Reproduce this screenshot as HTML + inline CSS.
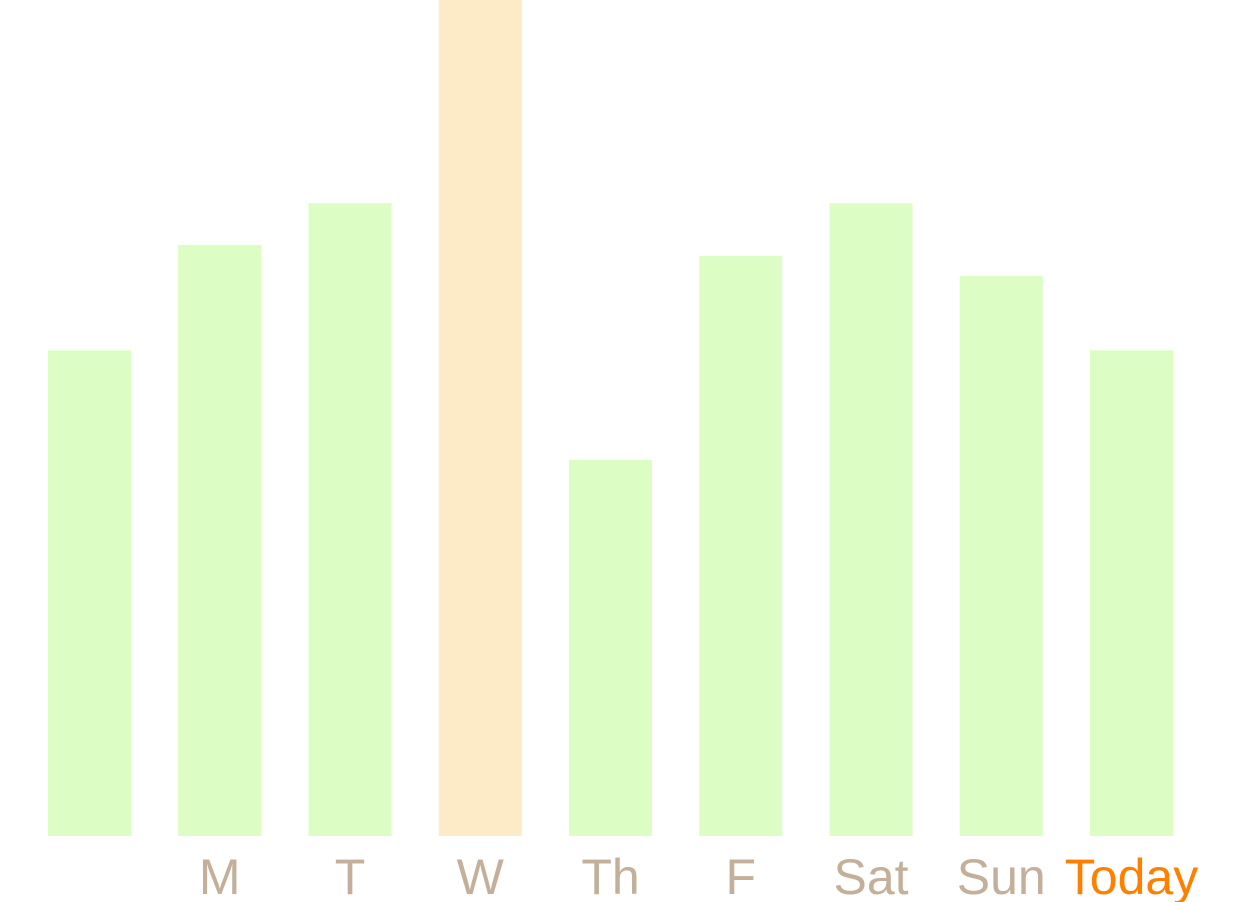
<!DOCTYPE html>
<html><head><meta charset="utf-8"><style>
html,body{margin:0;padding:0;background:#fff;}
svg{display:block;}
</style></head><body>
<svg id="chart" width="1233" height="902" xmlns="http://www.w3.org/2000/svg"></svg>
<script>
const categories = ["", "M", "T", "W", "Th", "F", "Sat", "Sun", "Today"];
const values = [58.1, 70.7, 75.7, 100, 45.0, 69.4, 75.7, 67.0, 58.1];
const highlight = [false, false, false, true, false, false, false, false, false];
const maxValue = 100;

const svg = document.getElementById('chart');
const NS = 'http://www.w3.org/2000/svg';
const baseY = 836, plotH = 836;
const x0 = 48, step = 130.25, barW = 83;
function xPos(i){ return x0 + i*step; }
function yPos(v){ return baseY - v/maxValue*plotH; }

categories.forEach((c,i)=>{
  const r = document.createElementNS(NS,'rect');
  
  
  r.setAttribute('x', xPos(i));
  r.setAttribute('y', yPos(values[i]));
  r.setAttribute('width', barW);
  r.setAttribute('height', baseY - yPos(values[i]));
  r.setAttribute('fill', highlight[i] ? '#FDEBC8' : '#DCFEC4');
  svg.appendChild(r);
  if (c) {
    const t = document.createElementNS(NS,'text');
    
    
    t.setAttribute('x', xPos(i) + barW/2);
    t.setAttribute('y', 894);
    t.setAttribute('text-anchor', 'middle');
    t.setAttribute('font-family', 'Liberation Sans, Arial, sans-serif');
    t.setAttribute('font-size', '50');
    t.setAttribute('fill', c === 'Today' ? '#FF8000' : '#C4B09A');
    t.textContent = c;
    svg.appendChild(t);
  }
});
</script>
</body></html>
